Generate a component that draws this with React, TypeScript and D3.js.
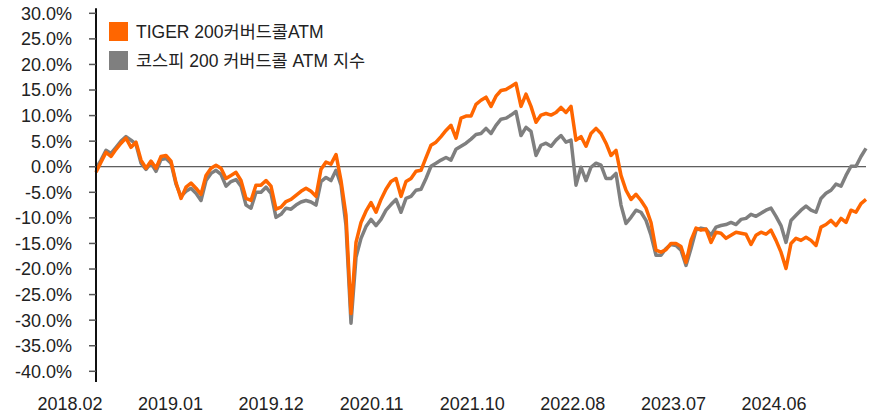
import React from "react";
import * as d3 from "d3";

// Semi-monthly observations, Feb 2018 -> early 2025 (cumulative return, %)
const tigerValues: number[] = [
  -1.1, 0.9, 2.8, 2.0, 3.4, 4.6, 5.6, 3.8, 4.8, 1.3,
  -0.3, 1.1, -0.3, 2.0, 2.2, 1.1, -3.1, -6.2, -4.0, -3.2,
  -4.2, -5.4, -1.7, -0.3, 0.3, -0.3, -2.3, -1.7, -1.1, -2.7,
  -6.2, -6.6, -3.6, -3.6, -2.7, -3.8, -8.3, -7.9, -6.8, -6.4,
  -5.6, -4.8, -4.2, -4.8, -5.8, -0.5, 0.9, 0.5, 2.4, -2.7,
  -9.5, -28.7, -14.8, -10.9, -8.7, -7.0, -8.9, -6.4, -4.4, -2.9,
  -2.3, -5.8, -2.9, -2.3, -0.9, -0.7, 1.8, 4.2, 4.8, 5.9,
  7.1, 8.1, 5.6, 9.5, 9.9, 9.9, 12.2, 13.0, 13.6, 11.8,
  13.8, 14.9, 15.1, 15.7, 16.3, 11.8, 14.2, 11.8, 8.7, 10.1,
  10.4, 10.1, 10.6, 11.6, 10.6, 11.8, 5.2, 5.9, 4.0, 6.5,
  7.5, 6.5, 4.6, 2.2, 3.2, -1.7, -4.6, -6.4, -5.4, -6.6,
  -8.1, -10.9, -16.3, -16.7, -16.2, -15.0, -15.0, -15.6, -18.7, -14.4,
  -12.0, -12.4, -12.2, -14.8, -12.8, -13.0, -14.0, -13.4, -12.8, -13.0,
  -13.2, -15.2, -13.4, -12.8, -13.2, -12.4, -14.4, -16.7, -19.9, -15.0,
  -14.0, -14.4, -13.8, -14.4, -15.4, -11.8, -11.3, -10.5, -11.5, -10.1,
  -10.9, -8.5, -8.9, -7.2, -6.4,
];

const indexValues: number[] = [
  -0.3, 1.3, 3.2, 2.6, 3.8, 5.0, 5.9, 5.2, 4.4, 0.7,
  -0.5, 0.7, -0.9, 1.4, 1.6, 0.7, -3.4, -5.8, -4.8, -4.2,
  -5.2, -6.6, -2.7, -1.3, -0.7, -1.5, -3.8, -2.9, -2.5, -3.8,
  -7.5, -8.1, -5.0, -5.0, -4.0, -5.2, -9.9, -9.3, -8.1, -8.3,
  -7.5, -6.9, -6.6, -6.9, -7.5, -2.9, -2.1, -2.7, -0.7, -3.6,
  -11.5, -30.6, -17.7, -14.0, -11.7, -10.3, -11.5, -10.3, -8.5, -7.4,
  -6.4, -8.9, -6.2, -5.8, -4.6, -4.4, -2.3, 0.1, 0.7, 1.3,
  1.8, 1.3, 3.4, 4.0, 4.6, 5.4, 6.3, 6.5, 7.5, 6.5,
  8.1, 9.3, 9.5, 10.1, 10.8, 6.1, 7.7, 6.9, 2.2, 4.2,
  4.6, 4.0, 5.2, 6.1, 4.8, 5.2, -3.6, -0.1, -2.7, -0.1,
  0.7, 0.3, -2.3, -2.3, -1.3, -7.5, -11.1, -9.9, -8.5, -8.9,
  -10.5, -13.4, -17.3, -17.3, -16.0, -15.2, -15.4, -16.3, -19.3, -16.0,
  -12.4, -12.0, -12.2, -13.4, -11.8, -11.5, -11.3, -10.9, -11.3, -10.3,
  -10.1, -9.3, -9.7, -9.1, -8.5, -8.1, -9.7, -11.5, -14.8, -10.5,
  -9.5, -8.5, -7.7, -8.5, -8.9, -6.2, -5.2, -4.6, -3.4, -3.8,
  -1.7, 0.1, 0.1, 2.0, 3.6,
];

const xTickLabels: string[] = [
  "2018.02", "2019.01", "2019.12", "2020.11", "2021.10", "2022.08", "2023.07", "2024.06",
];

const yTicks: number[] = [30, 25, 20, 15, 10, 5, 0, -5, -10, -15, -20, -25, -30, -35, -40];

const seriesNames: string[] = ["TIGER 200커버드콜ATM", "코스피 200 커버드콜 ATM 지수"];
const seriesColors: string[] = ["#FF6600", "#7F7F7F"];

const W = 876;
const H = 415;
const FONT = "'Liberation Sans', 'Noto Sans CJK KR', sans-serif";

export default function App() {
  const n = tigerValues.length;
  const x = d3.scaleLinear().domain([0, n - 1]).range([96, 866]);
  const y = d3.scaleLinear().domain([30, -40]).range([13.3, 371.3]);
  const xl = d3.scaleLinear().domain([0, xTickLabels.length - 1]).range([70, 774]);

  const line = d3
    .line<number>()
    .x((_, i) => x(i))
    .y((d) => y(d))
    .curve(d3.curveLinear);

  return (
    <svg
      width={W}
      height={H}
      style={{ position: "absolute", left: 0, top: 0, background: "#fff" }}
      fontFamily={FONT}
    >
      {/* zero line */}
      <line x1={96} x2={866} y1={y(0)} y2={y(0)} stroke="#333" strokeWidth={1} />

      {/* series */}
      <path d={line(indexValues) || ""} fill="none" stroke={seriesColors[1]} strokeWidth={3.5} strokeLinejoin="round" />
      <path d={line(tigerValues) || ""} fill="none" stroke={seriesColors[0]} strokeWidth={3.5} strokeLinejoin="round" />

      {/* y axis */}
      <line x1={96} x2={96} y1={y(31)} y2={y(-42.1)} stroke="#111" strokeWidth={2} />
      {yTicks.map((t) => (
        <g key={t}>
          <line x1={89} x2={96} y1={y(t)} y2={y(t)} stroke="#555" strokeWidth={1.5} />
          <text
            x={72}
            y={y(t)}
            dy="0.36em"
            textAnchor="end"
            fontSize={18}
            fill="#222"
          >
            {t.toFixed(1) + "%"}
          </text>
        </g>
      ))}

      {/* x labels */}
      {xTickLabels.map((l, i) => (
        <text key={l} x={xl(i)} y={404} dy="0.36em" textAnchor="middle" fontSize={18} fill="#222">
          {l}
        </text>
      ))}

      {/* legend */}
      {seriesNames.map((name, i) => (
        <g key={name}>
          <rect x={109} y={22 + i * 29} width={19} height={19} fill={seriesColors[i]} />
          <text x={136} y={31.5 + i * 29} dy="0.36em" fontSize={17.5} fill="#222">
            {name}
          </text>
        </g>
      ))}
    </svg>
  );
}
